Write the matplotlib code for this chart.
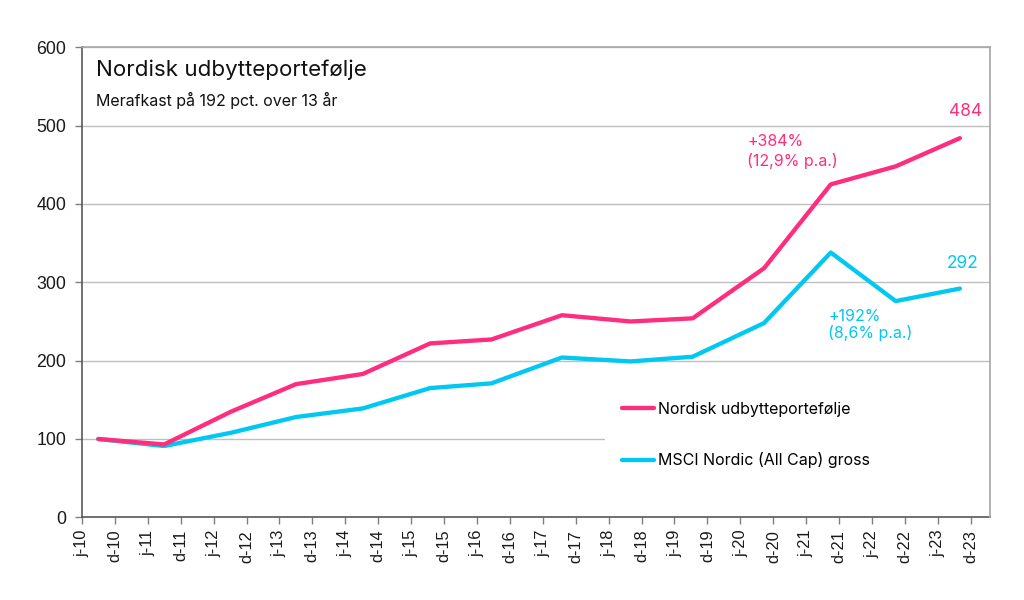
import datetime as dt

import matplotlib
matplotlib.use("Agg")
import matplotlib.pyplot as plt

# =====================
# Data
# =====================
dates = [
    "2010-09-01", "2011-09-01", "2012-09-07", "2013-09-01", "2014-09-07",
    "2015-09-15", "2016-08-20", "2017-09-15", "2018-10-01", "2019-09-10",
    "2020-10-10", "2021-10-15", "2022-10-10", "2023-10-01",
]
portfolio = [100, 93, 135, 170, 183, 222, 227, 258, 250, 254, 318, 425, 448, 484]
msci = [100, 91, 108, 128, 139, 165, 171, 204, 199, 205, 248, 338, 276, 292]

portfolio_label = "Nordisk udbytteportefølje"
msci_label = "MSCI Nordic (All Cap) gross"
title = "Nordisk udbytteportefølje"
subtitle = "Merafkast på 192 pct. over 13 år"
portfolio_note = "+384%\n(12,9% p.a.)"
msci_note = "+192%\n(8,6% p.a.)"

PINK = "#ff2d7e"
CYAN = "#00c8f0"
TXT_FONT = ["Inter", "DejaVu Sans"]
TICK_FONT = ["Liberation Sans", "DejaVu Sans"]

x = [dt.datetime.strptime(d, "%Y-%m-%d") for d in dates]

fig = plt.figure(figsize=(10.24, 6), dpi=100)
ax = fig.add_axes([0.0798, 0.1378, 0.887, 0.7834])

ax.plot(x, msci, color=CYAN, lw=3.1, label=msci_label, solid_capstyle="round", zorder=3)
ax.plot(x, portfolio, color=PINK, lw=3.1, label=portfolio_label, solid_capstyle="round", zorder=4)

# akser
ax.set_ylim(0, 600)
ax.set_yticks(range(0, 601, 100))
ax.set_xlim(dt.datetime(2010, 6, 1), dt.datetime(2024, 3, 16))

tick_dates = []
tick_labels = []
for yr in range(2010, 2024):
    for mo, letter in ((6, "j"), (12, "d")):
        tick_dates.append(dt.datetime(yr, mo, 1))
        tick_labels.append(f"{letter}-{yr % 100:02d}")
ax.set_xticks(tick_dates)
ax.set_xticklabels(tick_labels, rotation=90, fontsize=11.8, family=TICK_FONT, color="#1a1a1a")
for lab in ax.get_yticklabels():
    lab.set_family(TICK_FONT)
    lab.set_fontsize(12.8)
    lab.set_color("#1a1a1a")

ax.tick_params(axis="both", direction="out", length=5, color="#7f7f7f", width=1)
ax.tick_params(axis="x", pad=4)
ax.tick_params(axis="y", pad=6)

ax.grid(axis="y", color="#bfbfbf", lw=1)
ax.set_axisbelow(True)
for side in ("left", "bottom"):
    ax.spines[side].set_color("#595959")
    ax.spines[side].set_linewidth(1.2)
for side in ("top", "right"):
    ax.spines[side].set_color("#a6a6a6")
    ax.spines[side].set_linewidth(1.2)
    ax.spines[side].set_zorder(6)

# titel
ax.text(0.0157, 0.975, title, transform=ax.transAxes, fontsize=16.1,
        family=TXT_FONT, va="top", ha="left", color="#111111")
ax.text(0.0157, 0.905, subtitle, transform=ax.transAxes, fontsize=11.5,
        family=TXT_FONT, va="top", ha="left", color="#111111")

# annoteringer
ax.annotate(str(portfolio[-1]), xy=(x[-1], portfolio[-1]), xytext=(4, 13),
            textcoords="offset points", ha="center", va="bottom",
            color=PINK, fontsize=12.5, family=TXT_FONT)
ax.annotate(str(msci[-1]), xy=(x[-1], msci[-1]), xytext=(2, 12),
            textcoords="offset points", ha="center", va="bottom",
            color=CYAN, fontsize=12.5, family=TXT_FONT)
ax.text(0.7325, 0.816, portfolio_note, transform=ax.transAxes, fontsize=11.5,
        family=TXT_FONT, va="top", ha="left", color=PINK, linespacing=1.3)
ax.text(0.8217, 0.443, msci_note, transform=ax.transAxes, fontsize=11.5,
        family=TXT_FONT, va="top", ha="left", color=CYAN, linespacing=1.05)

# legende
handles, labels = ax.get_legend_handles_labels()
leg = ax.legend(handles[::-1], labels[::-1], loc="center left",
                bbox_to_anchor=(0.576, 0.03, 0.424, 0.29), mode="expand",
                frameon=True, fancybox=False, framealpha=1, edgecolor="white",
                prop={"family": TXT_FONT, "size": 11.5}, handlelength=2.0,
                handletextpad=0.2, labelspacing=2.2, borderaxespad=0,
                borderpad=1.1)
leg.get_frame().set_linewidth(0)
leg.set_zorder(5)

fig.savefig("out.png", dpi=100, facecolor="white")
